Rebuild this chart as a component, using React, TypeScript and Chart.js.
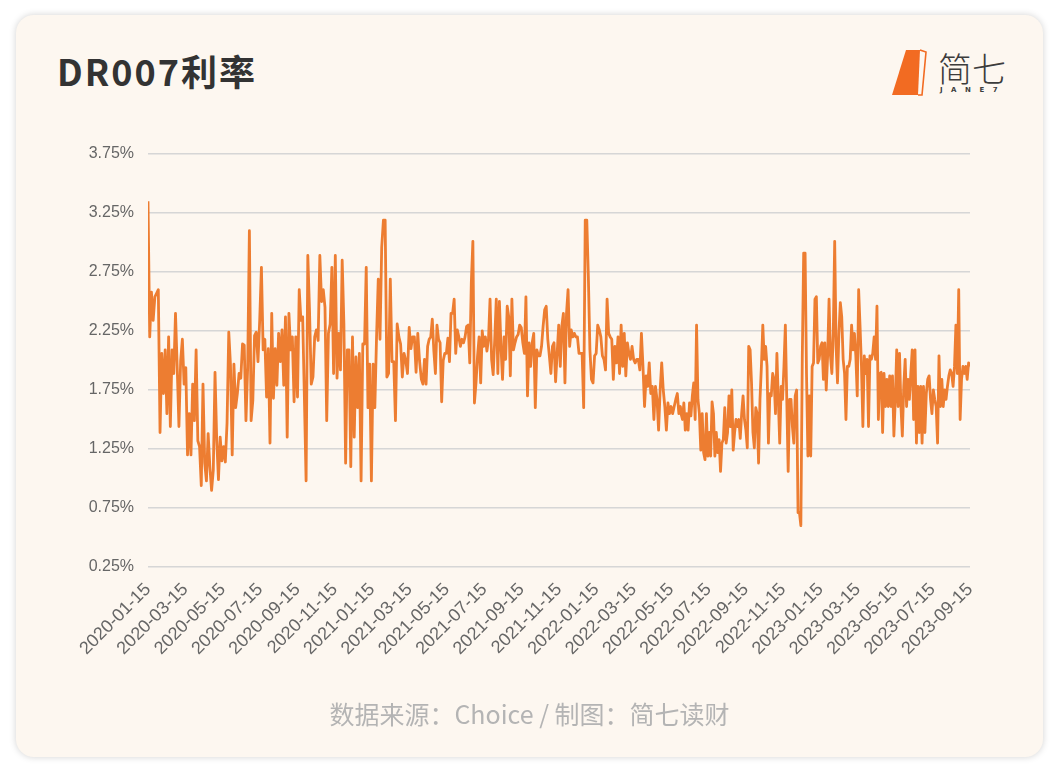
import React, { useEffect, useRef } from "react";
import { Chart, registerables } from "chart.js";

Chart.register(...registerables);

// x-axis tick labels (every two months)
const tickLabels = [
  "2020-01-15", "2020-03-15", "2020-05-15", "2020-07-15", "2020-09-15", "2020-11-15",
  "2021-01-15", "2021-03-15", "2021-05-15", "2021-07-15", "2021-09-15", "2021-11-15",
  "2022-01-15", "2022-03-15", "2022-05-15", "2022-07-15", "2022-09-15", "2022-11-15",
  "2023-01-15", "2023-03-15", "2023-05-15", "2023-07-15", "2023-09-15",
];

// y-axis ticks (%)
const yTicks = [0.25, 0.75, 1.25, 1.75, 2.25, 2.75, 3.25, 3.75];

// DR007 (%), period 1: 2020-01-15 .. 2021-03-31
const periodA = ["2020-01-15", "2021-03-31"];
const ratesA = [
  3.35, 2.2, 2.58, 2.34, 2.54, 2.57, 2.6, 1.39, 2.06, 1.72,
  2.09, 1.55, 2.2, 1.44, 2.09, 1.89, 2.4, 1.94, 1.44, 2.0,
  2.18, 1.8, 1.94, 1.2, 1.55, 1.2, 1.8, 1.49, 2.09, 1.32,
  1.27, 0.94, 1.8, 1.13, 0.98, 1.38, 1.1, 0.9, 1.07, 1.9,
  1.32, 0.99, 1.35, 1.15, 1.27, 1.14, 1.47, 2.24, 1.96, 1.2,
  1.97, 1.6, 1.72, 1.89, 1.85, 2.14, 2.13, 1.49, 1.94, 3.1,
  1.49, 1.66, 2.21, 2.24, 1.99, 2.34, 2.79, 2.09, 2.18, 1.69,
  2.1, 1.3, 2.4, 1.68, 2.1, 1.79, 2.23, 1.99, 2.26, 1.79,
  2.37, 1.35, 2.4, 2.09, 2.2, 1.65, 2.2, 1.69, 2.6, 2.34,
  2.37, 1.69, 0.98, 2.89, 2.42, 1.8, 1.86, 2.2, 2.26, 2.17,
  2.89, 2.5, 2.6, 2.45, 1.49, 2.23, 2.31, 2.79, 1.89, 2.89,
  1.85, 2.23, 1.92, 2.85, 2.31, 1.13, 2.09, 2.09, 1.1, 2.2,
  1.35, 2.03, 1.6, 2.06, 0.98, 2.14, 2.14, 2.79, 1.6, 1.97,
  0.98, 1.97, 1.6, 2.2, 2.69, 2.18, 2.96, 3.19, 3.19, 1.86,
  1.89, 2.69, 1.99, 1.99, 1.49, 2.31, 2.2, 2.14, 1.86, 2.06,
  2.0, 1.89, 2.28, 2.1, 2.2, 2.2, 1.9, 2.23, 2.0,
];

// DR007 (%), period 2: 2021-04-04 .. 2022-05-30
const periodB = ["2021-04-04", "2022-05-30"];
const ratesB = [
  1.84, 1.8, 2.01, 1.8, 2.12, 2.18, 2.2, 2.35, 2.08, 1.89,
  2.3, 2.18, 2.15, 1.65, 2.0, 2.06, 2.06, 2.19, 1.99, 2.4,
  2.4, 2.52, 2.06, 2.26, 2.2, 2.12, 2.18, 2.15, 2.2, 2.29,
  2.3, 1.98, 2.66, 3.01, 1.64, 1.81, 2.04, 2.2, 1.81, 2.25,
  2.12, 2.2, 2.08, 2.18, 2.52, 2.01, 1.88, 2.18, 2.52, 1.89,
  2.5, 2.12, 1.84, 2.2, 2.01, 2.46, 2.37, 1.87, 2.52, 2.09,
  2.15, 2.2, 2.22, 2.3, 2.28, 2.15, 2.06, 2.54, 1.7, 2.15,
  1.95, 2.15, 2.23, 1.6, 2.09, 2.04, 2.04, 2.12, 2.29, 2.43,
  2.46, 2.18, 2.04, 1.89, 2.12, 2.15, 1.82, 2.06, 2.3, 1.95,
  2.29, 2.4, 1.81, 2.4, 2.6, 2.12, 2.26, 2.2, 2.23, 2.2,
  2.2, 2.06, 2.06, 2.06, 1.6, 3.19, 3.19, 2.71, 2.09, 1.84,
  1.81, 2.04, 2.06, 2.3, 2.26, 2.2, 2.04, 2.01, 1.92, 2.52,
  2.23, 2.2, 2.18, 1.84, 2.12, 1.98, 2.2, 1.89, 2.3, 1.95,
  2.23, 1.87, 2.15, 2.06, 2.01, 2.12, 2.01, 1.98, 2.01, 2.01,
  1.92, 2.23, 1.95, 1.61, 1.87, 1.78, 1.98, 1.72, 1.78, 1.5,
  1.78, 1.67, 1.41, 1.75, 1.98, 1.75, 1.61, 1.41, 1.64, 1.55,
  1.61, 1.55, 1.61, 1.67, 1.72, 1.55, 1.61,
];

// DR007 (%), period 3: 2022-06-01 .. 2023-09-15
const periodC = ["2022-06-01", "2023-09-15"];
const ratesC = [
  1.55, 1.5, 1.64, 1.41, 1.55, 1.41, 1.64, 1.53, 1.7, 1.81,
  1.5, 2.3, 1.67, 1.55, 1.24, 1.55, 1.22, 1.16, 1.55, 1.19,
  1.39, 1.19, 1.65, 1.55, 1.19, 1.39, 1.22, 1.33, 1.06, 1.3,
  1.33, 1.6, 1.3, 1.39, 1.7, 1.44, 1.75, 1.24, 1.39, 1.5,
  1.44, 1.5, 1.34, 1.55, 1.7, 1.5, 1.41, 1.26, 2.12, 2.09,
  1.81, 1.39, 1.26, 1.6, 1.55, 1.13, 1.67, 1.95, 2.3, 2.01,
  2.12, 1.95, 1.3, 1.72, 1.7, 1.89, 1.84, 1.55, 2.06, 1.67,
  1.3, 1.78, 1.67, 1.95, 2.3, 1.67, 1.06, 1.67, 1.67, 1.44,
  1.3, 1.7, 1.75, 0.71, 0.71, 0.6, 2.01, 2.91, 2.91, 1.89,
  1.19, 1.7, 1.19, 1.95, 1.98, 2.52, 2.54, 1.98, 2.01, 2.12,
  2.15, 1.84, 2.15, 1.75, 2.04, 2.52, 2.04, 1.89, 2.23, 3.01,
  2.12, 1.81, 2.23, 2.49, 2.37, 2.01, 1.89, 1.5, 1.95, 1.95,
  2.01, 2.3, 2.09, 2.23, 2.04, 1.7, 2.6, 2.29, 1.95, 1.44,
  2.04, 1.89, 2.01, 1.44, 2.04, 2.01, 2.06, 2.2, 2.01, 2.46,
  1.5, 1.89, 1.9, 1.39, 1.89, 1.61, 1.84, 1.61, 1.87, 1.61,
  1.87, 1.36, 1.67, 2.09, 1.61, 2.06, 1.61, 1.36, 1.78, 2.01,
  1.61, 1.84, 1.67, 1.89, 2.09, 1.5, 2.09, 1.3, 1.78, 1.39,
  1.78, 1.3, 1.78, 1.39, 1.72, 1.84, 1.87, 1.67, 1.55, 1.75,
  1.67, 1.61, 1.3, 2.04, 1.61, 1.84, 1.61, 1.75, 1.67, 1.78,
  1.87, 1.92, 1.89, 1.78, 1.95, 2.3, 1.89, 2.6, 1.5, 1.84,
  1.95, 1.89, 1.95, 1.84, 1.98, 1.95,
];

const AXIS_START = tickLabels[0];

// months elapsed since the first tick label (tick labels are 2 months apart)
function monthsSince(date: string): number {
  const [y0, m0, d0] = AXIS_START.split("-").map(Number);
  const [y, m, d] = date.split("-").map(Number);
  return (y - y0) * 12 + (m - m0) + (d - d0) / 30;
}

function toPoints(period: string[], rates: number[]) {
  const a = monthsSince(period[0]);
  const b = monthsSince(period[1]);
  const n = rates.length;
  return rates.map((v, i) => ({ x: a + ((b - a) * i) / (n - 1), y: v }));
}

export default function App() {
  const canvasRef = useRef<HTMLCanvasElement | null>(null);

  useEffect(() => {
    if (!canvasRef.current) return;
    const data = [
      ...toPoints(periodA, ratesA),
      ...toPoints(periodB, ratesB),
      ...toPoints(periodC, ratesC),
    ];
    const chart = new Chart(canvasRef.current, {
      type: "line",
      data: {
        datasets: [
          {
            label: "DR007",
            data,
            borderColor: "#ED7D31",
            borderWidth: 2.8,
            pointRadius: 0,
            tension: 0,
            borderJoinStyle: "round",
            fill: false,
          },
        ],
      },
      options: {
        animation: false,
        responsive: false,
        devicePixelRatio: 1,
        layout: { padding: { left: 78, right: 90, top: 154, bottom: 106 } },
        plugins: { legend: { display: false }, tooltip: { enabled: false } },
        scales: {
          x: {
            type: "linear",
            min: 0,
            max: (tickLabels.length - 1) * 2,
            grid: { display: false },
            border: { display: false },
            afterFit: (s: any) => {
              s.height = 100;
            },
            ticks: {
              stepSize: 2,
              autoSkip: false,
              minRotation: 45,
              maxRotation: 45,
              padding: 4,
              color: "#666666",
              font: { family: "'Liberation Sans', Arial, sans-serif", size: 18 },
              callback: (v: any) => tickLabels[Math.round(Number(v) / 2)] ?? "",
            },
          },
          y: {
            min: yTicks[0],
            max: yTicks[yTicks.length - 1],
            border: { display: false },
            grid: { color: "#d6d6d6", lineWidth: 1.6, drawTicks: false },
            afterFit: (s: any) => {
              s.width = 70;
            },
            ticks: {
              stepSize: yTicks[1] - yTicks[0],
              padding: 14,
              color: "#666666",
              font: { family: "'Liberation Sans', Arial, sans-serif", size: 16 },
              callback: (v: any) => Number(v).toFixed(2) + "%",
            },
          },
        },
      },
    });
    return () => chart.destroy();
  }, []);

  return (
    <div
      style={{
        position: "fixed",
        left: 0,
        top: 0,
        width: 1060,
        height: 773,
        background: "#ffffff",
        overflow: "hidden",
      }}
    >
      <div
        style={{
          position: "absolute",
          left: 16,
          top: 15,
          width: 1027,
          height: 742,
          borderRadius: 18,
          background: "#fdf7f0",
          boxShadow: "0 0 7px rgba(0,0,0,0.18)",
        }}
      />
      <div
        style={{
          position: "absolute",
          left: 57,
          top: 52,
          fontFamily: "'Noto Sans CJK SC', 'Noto Sans', sans-serif",
          fontWeight: 700,
          fontSize: 36,
          lineHeight: 1,
          letterSpacing: 2,
          color: "#333333",
          whiteSpace: "nowrap",
        }}
      >
        DR007利率
      </div>
      {/* logo */}
      <svg
        style={{ position: "absolute", left: 886, top: 44 }}
        width={130}
        height={60}
        viewBox="0 0 130 60"
      >
        <polygon points="20,6 34,6 32,51 6,51" fill="#F26B22" />
        <polyline
          points="34,6 40,8 36,51 32,51"
          fill="none"
          stroke="#F26B22"
          strokeWidth={1.6}
        />
        <text
          x={52}
          y={38}
          fontFamily="'Noto Sans CJK SC', sans-serif"
          fontSize={34}
          fontWeight={300}
          fill="#3c3c3c"
        >
          简七
        </text>
        <text
          x={54}
          y={48}
          fontFamily="'DejaVu Sans', sans-serif"
          fontSize={7}
          fontWeight={700}
          letterSpacing={8.5}
          fill="#3c3c3c"
        >
          JANE7
        </text>
      </svg>
      <canvas
        ref={canvasRef}
        width={1060}
        height={773}
        style={{ position: "absolute", left: 0, top: 0, width: 1060, height: 773 }}
      />
      <div
        style={{
          position: "absolute",
          left: 16,
          width: 1027,
          top: 698,
          textAlign: "center",
          fontFamily: "'Noto Sans CJK SC', 'Noto Sans', sans-serif",
          fontSize: 25,
          lineHeight: 1.2,
          color: "#b4b4b4",
          whiteSpace: "nowrap",
        }}
      >
        数据来源：Choice / 制图：简七读财
      </div>
    </div>
  );
}
